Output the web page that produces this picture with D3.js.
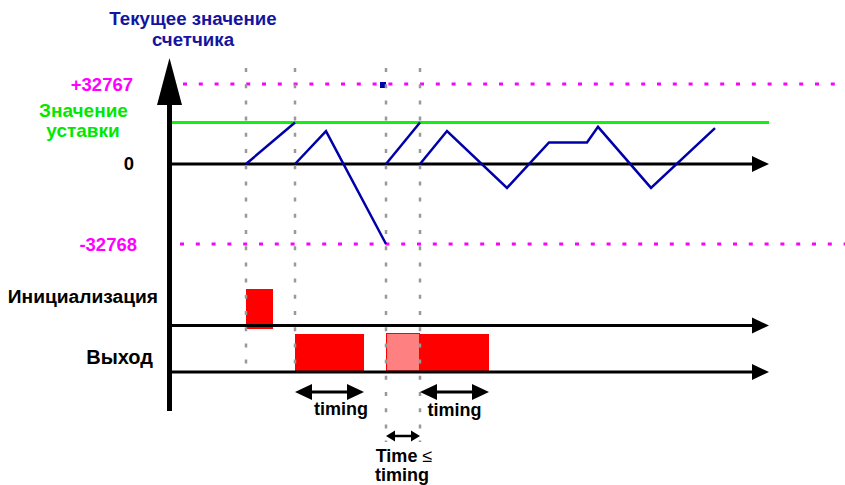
<!DOCTYPE html>
<html>
<head>
<meta charset="utf-8">
<script src="https://cdn.jsdelivr.net/npm/d3@7"></script>
<style>
  html, body { margin: 0; padding: 0; background: #fff; }
  svg { display: block; }
  text { font-family: "Liberation Sans", Arial, sans-serif; font-weight: bold; font-size: 18px; }
</style>
</head>
<body>
<svg id="chart" width="845" height="485"></svg>
<script>
// ---------------- data ----------------
const counterMax = 32767;
const counterMin = -32768;
const setpoint = 17000;

// event times (vertical dotted guide lines)
const eventTimes = [15.2, 25, 43.2, 50];
const eventEnds = ["lane", "lane", "small", "small"];

// counter value trace, split into segments (time, value)
const counterSegments = [
  [[15.2, 0], [25, 17000]],
  [[25, 0], [31.2, 13500], [43.2, -32768]],
  [[43.2, 0], [50, 17000]],
  [[50, 0], [55.4, 13500], [67.4, -9800], [75.8, 8800], [83.4, 8800], [85.6, 15200], [96.2, -9800], [109, 14700]]
];

// marker on +32767 line
const markerTime = 42.6;

// lanes
const lanes = ["Инициализация", "Выход"];
const initPulses = [[15.2, 20.6]];
const outputPulses = [[25, 38.8, "on"], [43.2, 50, "partial"], [50, 63.8, "on"]];

// timing annotations
const timingArrows = [[25, 38.8, "timing"], [50, 63.8, "timing"]];
const smallArrow = [43.2, 50];

const yTickLabels = [["+32767", counterMax], ["0", 0], ["-32768", counterMin]];

// ---------------- scales ----------------
const svg = d3.select("#chart");
const x = d3.scaleLinear().domain([0, 120]).range([170, 770]);
const y = d3.scaleLinear().domain([counterMin, counterMax]).range([244, 84]);
const laneY = d3.scalePoint().domain(lanes).range([325.5, 372]);

const BLUE = "#0000aa";
const MAG = "#ff00ff";
const GREEN_LINE = "#11f011";
const GREEN_TXT = "#00e800";
const RED = "#ff0000";

// ---------------- limit lines ----------------
svg.append("line")
  .attr("x1", 183).attr("x2", 845)
  .attr("y1", y(counterMax)).attr("y2", y(counterMax))
  .attr("stroke", MAG).attr("stroke-width", 3)
  .attr("stroke-dasharray", "4 11.8");
svg.append("line")
  .attr("x1", 180).attr("x2", 845)
  .attr("y1", y(counterMin)).attr("y2", y(counterMin))
  .attr("stroke", MAG).attr("stroke-width", 3)
  .attr("stroke-dasharray", "4 11.8");

// ---------------- bars ----------------
const initTop = laneY(lanes[0]);
svg.selectAll("rect.init").data(initPulses).enter().append("rect")
  .attr("class", "init")
  .attr("x", d => x(d[0])).attr("width", d => x(d[1]) - x(d[0]))
  .attr("y", initTop - 36.5).attr("height", 40)
  .attr("fill", RED);

const outBase = laneY(lanes[1]);
svg.selectAll("rect.out").data(outputPulses).enter().append("rect")
  .attr("class", "out")
  .attr("x", d => x(d[0]) + (d[2] === "partial" ? 0.5 : 0))
  .attr("width", d => x(d[1]) - x(d[0]) - (d[2] === "partial" ? 1 : 0))
  .attr("y", d => d[2] === "partial" ? outBase - 38.5 : outBase - 38)
  .attr("height", d => d[2] === "partial" ? 37.5 : 38)
  .attr("fill", d => d[2] === "partial" ? "#ff8080" : RED)
  .attr("stroke", d => d[2] === "partial" ? RED : "none")
  .attr("stroke-width", 1);

// ---------------- setpoint line ----------------
svg.append("line")
  .attr("x1", 170).attr("x2", 769)
  .attr("y1", y(setpoint)).attr("y2", y(setpoint))
  .attr("stroke", GREEN_LINE).attr("stroke-width", 3);

// ---------------- horizontal axes with arrows ----------------
function hAxis(yy) {
  svg.append("line")
    .attr("x1", 170).attr("x2", 754)
    .attr("y1", yy).attr("y2", yy)
    .attr("stroke", "#000").attr("stroke-width", 3);
  svg.append("path")
    .attr("d", `M752,${yy - 8}L769,${yy}L752,${yy + 8}Z`)
    .attr("fill", "#000");
}
hAxis(y(0));
lanes.forEach(l => hAxis(laneY(l)));

// ---------------- counter trace ----------------
const line = d3.line().x(d => x(d[0])).y(d => y(d[1]));
svg.selectAll("path.trace").data(counterSegments).enter().append("path")
  .attr("class", "trace")
  .attr("d", line)
  .attr("fill", "none")
  .attr("stroke", BLUE).attr("stroke-width", 2.5)
  .attr("stroke-linejoin", "miter");

// marker square
svg.append("rect")
  .attr("x", x(markerTime) - 3).attr("y", y(counterMax) - 2)
  .attr("width", 6).attr("height", 6)
  .attr("fill", BLUE);

// ---------------- vertical axis ----------------
svg.append("line")
  .attr("x1", 169.5).attr("x2", 169.5)
  .attr("y1", 100).attr("y2", 411)
  .attr("stroke", "#000").attr("stroke-width", 5);
svg.append("path")
  .attr("d", "M157,105L169.5,58L182,105Z")
  .attr("fill", "#000");

// ---------------- event guide lines ----------------
svg.selectAll("line.ev").data(eventTimes).enter().append("line")
  .attr("class", "ev")
  .attr("x1", d => x(d)).attr("x2", d => x(d))
  .attr("y1", 68)
  .attr("y2", (d, i) => eventEnds[i] === "lane" ? laneY(lanes[1]) : 442)
  .attr("stroke", "#999").attr("stroke-width", 2.5)
  .attr("stroke-dasharray", "4 12.2");

// ---------------- timing arrows ----------------
function dblArrow(x1, x2, yy, head, hh, sw) {
  svg.append("line")
    .attr("x1", x1 + head - 1).attr("x2", x2 - head + 1)
    .attr("y1", yy).attr("y2", yy)
    .attr("stroke", "#000").attr("stroke-width", sw);
  svg.append("path")
    .attr("d", `M${x1},${yy}L${x1 + head},${yy - hh}L${x1 + head},${yy + hh}Z`)
    .attr("fill", "#000");
  svg.append("path")
    .attr("d", `M${x2},${yy}L${x2 - head},${yy - hh}L${x2 - head},${yy + hh}Z`)
    .attr("fill", "#000");
}
timingArrows.forEach(a => dblArrow(x(a[0]), x(a[1]), 392, 17, 8, 3));
dblArrow(x(smallArrow[0]), x(smallArrow[1]), 436, 9, 5.5, 2.5);

svg.append("text").attr("x", x(timingArrows[0][0]) + 46).attr("y", 415)
  .attr("text-anchor", "middle").text(timingArrows[0][2]);
svg.append("text").attr("x", (x(timingArrows[1][0]) + x(timingArrows[1][1])) / 2).attr("y", 416)
  .attr("text-anchor", "middle").text(timingArrows[1][2]);

const tle = svg.append("text").attr("x", 404).attr("y", 462).attr("text-anchor", "middle");
tle.append("tspan").text("Time ");
tle.append("tspan").attr("font-weight", "normal").text("≤");
svg.append("text").attr("x", 402).attr("y", 481).attr("text-anchor", "middle").text("timing");

// ---------------- labels ----------------
svg.append("text").attr("x", 193).attr("y", 25).attr("text-anchor", "middle")
  .style("font-size", "18.7px")
  .attr("fill", "#1414a0").text("Текущее значение");
svg.append("text").attr("x", 193).attr("y", 46).attr("text-anchor", "middle")
  .style("font-size", "18.7px")
  .attr("fill", "#1414a0").text("счетчика");

svg.selectAll("text.ytick").data(yTickLabels).enter().append("text")
  .attr("class", "ytick")
  .attr("x", d => d[1] === counterMin ? 137 : (d[1] === 0 ? 134 : 133))
  .attr("y", d => y(d[1]) + 6.5)
  .attr("text-anchor", "end")
  .style("font-size", "18.5px")
  .attr("fill", d => d[1] === 0 ? "#000" : MAG)
  .text(d => d[0]);

svg.append("text").attr("x", 83.5).attr("y", 117).attr("text-anchor", "middle")
  .style("font-size", "19px")
  .attr("fill", GREEN_TXT).text("Значение");
svg.append("text").attr("x", 83).attr("y", 137).attr("text-anchor", "middle")
  .style("font-size", "19px")
  .attr("fill", GREEN_TXT).text("уставки");

svg.append("text").attr("x", 158).attr("y", 303).attr("text-anchor", "end")
  .style("font-size", "19.2px")
  .attr("fill", "#000").text(lanes[0]);
svg.append("text").attr("x", 153).attr("y", 364).attr("text-anchor", "end")
  .style("font-size", "20px")
  .attr("fill", "#000").text(lanes[1]);
</script>
</body>
</html>
